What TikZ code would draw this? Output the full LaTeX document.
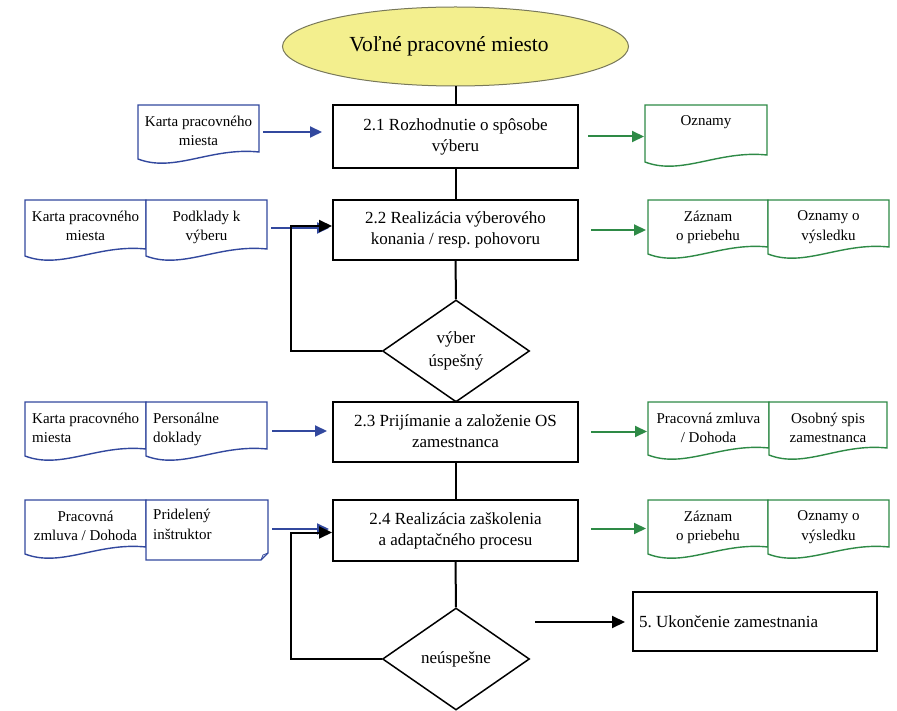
\documentclass[tikz,border=0pt]{standalone}
\usepackage{fontspec}
\setmainfont{Liberation Serif}
\usetikzlibrary{shapes.geometric,arrows.meta,calc}
\definecolor{dblue}{RGB}{50,72,158}
\definecolor{dgreen}{RGB}{46,138,70}
\definecolor{ellfill}{RGB}{243,239,142}
\definecolor{elldraw}{RGB}{120,120,90}
\frenchspacing
\tikzset{
  pbox/.style={draw=black, line width=2pt, minimum width=245pt, align=center, inner sep=0pt,
    font=\fontsize{17}{21}\selectfont},
  decis/.style={diamond, draw=black, line width=1.5pt, minimum width=147pt, minimum height=102pt,
    inner sep=0pt, align=center, font=\fontsize{17}{23}\selectfont},
  docframe/.style={inner sep=0pt, outer sep=0pt},
  dtext/.style={inner sep=0pt, font=\fontsize{15}{19.5}\selectfont},
  conn/.style={draw=black, line width=2pt},
  karrow/.style={draw=black, line width=2pt, -{Triangle[length=13pt,width=12pt]}},
  barrow/.style={draw=dblue, line width=2pt, -{Triangle[length=12pt,width=11pt]}},
  garrow/.style={draw=dgreen, line width=2pt, -{Triangle[length=12pt,width=11pt]}},
}
\newcommand\docwave[2]{%
  \draw[#2, line width=1.4pt, fill=white] (#1.north west) -- (#1.north east)
    -- ([yshift=11pt]#1.south east)
    .. controls ($(#1.south west)!0.6!(#1.south east)+(0pt,16pt)$)
       and ($(#1.south west)!0.3!(#1.south east)+(0pt,-10pt)$)
    .. ([yshift=4pt]#1.south west) -- cycle;}
% centred document
\newcommand\docnode[7]{%
  \node[docframe, minimum width=#4pt, minimum height=#5pt, anchor=north west] (#1) at (#2,#3) {};
  \docwave{#1}{#6}
  \node[dtext, align=center, anchor=north] (#1t) at ([yshift=-10.5pt]#1.north) {#7};}
% left-aligned document
\newcommand\docnodel[7]{%
  \node[docframe, minimum width=#4pt, minimum height=#5pt, anchor=north west] (#1) at (#2,#3) {};
  \docwave{#1}{#6}
  \node[dtext, align=left, anchor=north west] (#1t) at ([xshift=7pt,yshift=-10.5pt]#1.north west) {#7};}
\begin{document}
\begin{tikzpicture}[x=1pt,y=-1pt]
\useasboundingbox (0,0) rectangle (897,711);

% start ellipse
\node[ellipse, draw=elldraw, fill=ellfill, line width=1pt, minimum width=346pt, minimum height=79pt,
  inner sep=0pt, font=\fontsize{21.5}{24}\selectfont] (e) at (455.5,46.5) {};
\node[inner sep=0pt, font=\fontsize{21.5}{24}\selectfont] (et) at (449,46.5) {Voľné pracovné miesto};

% process boxes
\node[pbox, minimum height=63pt] (b21) at (455.5,136.5) {2.1 Rozhodnutie o spôsobe\\výberu};
\node[pbox, minimum height=60pt] (b22) at (455.5,230) {2.2 Realizácia výberového\\konania / resp. pohovoru};
\node[decis] (d1) at (456,351) {výber\\úspešný};
\node[pbox, minimum height=60pt] (b23) at (455.5,431.5) {2.3 Prijímanie a založenie OS\\zamestnanca};
\node[pbox, minimum height=61pt] (b24) at (455.5,530.5) {2.4 Realizácia zaškolenia\\a adaptačného procesu};
\node[decis] (d2) at (456,659) {neúspešne};
\node[draw=black, line width=2pt, minimum height=59pt, minimum width=244pt, anchor=west, inner sep=0pt] (b5) at (632,621.5) {};
\node[anchor=west, inner sep=0pt, font=\fontsize{17}{21}\selectfont] (b5t) at ([xshift=7pt]b5.west) {5. Ukončenie zamestnania};

% main flow
\draw[conn] (e.south) -- (b21.north);
\draw[conn] (b21.south) -- (b22.north);
\draw[conn] (b22.south) -- (d1.north);
\draw[conn] (d1.south) -- (b23.north);
\draw[conn] (b23.south) -- (b24.north);
\draw[conn] (b24.south) -- (d2.north);

% input documents (blue)
\docnode{k1}{138}{105}{121}{58}{dblue}{Karta pracovného\\miesta}
\docnode{k2}{25}{200}{121}{60}{dblue}{Karta pracovného\\miesta}
\docnode{p2}{146}{200}{121}{60}{dblue}{Podklady k\\výberu}
\docnodel{k3}{25}{402}{121}{58}{dblue}{Karta pracovného\\miesta}
\docnodel{p3}{146}{402}{121}{58}{dblue}{Personálne\\doklady}
\docnode{k4}{25}{500}{121}{58}{dblue}{Pracovná\\zmluva / Dohoda}
% note with folded corner
\node[docframe, minimum width=122pt, minimum height=60pt, anchor=north west] (n4) at (146,500) {};
\draw[dblue, line width=1.4pt, fill=white] (n4.north west) -- (n4.north east) -- ([yshift=7pt]n4.south east)
  -- ([xshift=-7pt]n4.south east) -- (n4.south west) -- cycle;
\draw[dblue, line width=0.8pt] ([xshift=-7pt]n4.south east) -- ([xshift=-5pt,yshift=5pt]n4.south east) -- ([yshift=7pt]n4.south east);
\node[dtext, align=left, anchor=north west] (n4t) at ([xshift=7pt,yshift=-9pt]n4.north west) {Pridelený\\inštruktor};

% output documents (green)
\docnode{o1}{645}{105}{122}{61}{dgreen}{Oznamy}
\docnode{z2}{648}{200}{120}{58}{dgreen}{Záznam\\o priebehu}
\docnode{v2}{768}{200}{121}{58}{dgreen}{Oznamy o\\výsledku}
\docnode{z3}{648}{402}{121}{57}{dgreen}{Pracovná zmluva\\/ Dohoda}
\docnode{v3}{769}{402}{118}{57}{dgreen}{Osobný spis\\zamestnanca}
\docnode{z4}{648}{500}{120}{58}{dgreen}{Záznam\\o priebehu}
\docnode{v4}{768}{500}{121}{58}{dgreen}{Oznamy o\\výsledku}

% blue input arrows
\draw[barrow, shorten <=4pt, shorten >=10pt] ([yshift=2pt]k1.east) -- ([yshift=2pt]k1.east -| b21.west);
\draw[barrow, shorten <=4pt, shorten >=3pt] ([yshift=2pt]p2.east) -- ([yshift=2pt]p2.east -| b22.west);
\draw[barrow, shorten <=5pt, shorten >=5pt] (p3.east) -- (p3.east -| b23.west);
\draw[barrow, shorten <=4pt, shorten >=3pt] ([yshift=1pt]n4.east) -- ([yshift=1pt]n4.east -| b24.west);

% green output arrows
\draw[garrow, shorten <=9pt, shorten >=1pt] (b21.east) -- (b21.east -| o1.west);
\draw[garrow, shorten <=12pt, shorten >=2pt] (b22.east) -- (b22.east -| z2.west);
\draw[garrow, shorten <=12pt, shorten >=1pt] (b23.east) -- (b23.east -| z3.west);
\draw[garrow, shorten <=12pt, shorten >=2pt] ([yshift=2pt]b24.east) -- ([yshift=2pt]b24.east -| z4.west);

% feedback loops
\coordinate (l1) at (291,351);
\draw[karrow] (d1.west) -- (l1) |- ([yshift=4pt]b22.west);
\coordinate (l2) at (291,659);
\draw[karrow] (d2.west) -- (l2) |- ([yshift=-2pt]b24.west);

% to termination
\coordinate (c5) at (535,622);
\draw[karrow, shorten >=7pt] (c5) -- (c5 -| b5.west);
\end{tikzpicture}
\end{document}
